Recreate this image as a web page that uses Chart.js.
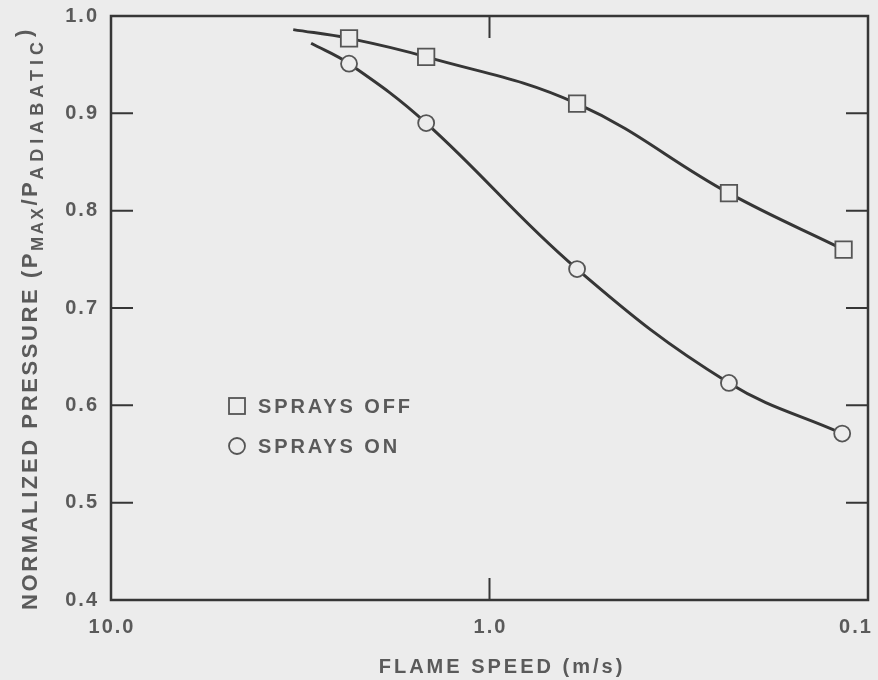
<!DOCTYPE html>
<html>
<head>
<meta charset="utf-8">
<script src="https://cdn.jsdelivr.net/npm/chart.js@4/dist/chart.umd.min.js"></script>
<style>
  html, body { margin: 0; padding: 0; background: #ececec; }
  #wrap { width: 878px; height: 680px; }
</style>
</head>
<body>
<div id="wrap"><canvas id="chart" width="878" height="680"></canvas></div>
<script>
// flame speed (m/s) vs normalized peak pressure
// the first entry of each series is where the fitted curve starts (no marker)
const offSpeed = [3.30, 2.35, 1.47, 0.587, 0.233, 0.116]
const offPressure = [0.986, 0.977, 0.958, 0.910, 0.818, 0.760]
const onSpeed = [2.96, 2.35, 1.47, 0.587, 0.233, 0.117]
const onPressure = [0.972, 0.951, 0.890, 0.740, 0.623, 0.571]

const xTickValues = [10, 1, 0.1]
const xTickLabels = ['10.0', '1.0', '0.1']
const yInnerTicks = [0.5, 0.6, 0.7, 0.8, 0.9]
const xInnerTicks = [1]

const legendItems = ['SPRAYS OFF', 'SPRAYS ON']
const xTitle = 'FLAME SPEED (m/s)'
// y title pieces: [text, font size, baseline shift, letter spacing]
const yTitleParts = [
    ['NORMALIZED PRESSURE (P', 22, 0, 2.6],
    ['MAX', 17, 6, 2.5],
    ['/P', 22, 0, 2.6],
    ['ADIABATIC', 18, 6, 5],
    [')', 22, -6, 0]
]

const INK = '#363636'
const TEXT = '#5a5a5a'
const BG = '#ececec'
const FONT = '"Liberation Sans", Arial, sans-serif'

function toPoints(xs, ys) {
    return xs.map((x, i) => ({x: x, y: ys[i]}))
}

function markerRadius(xs, r) {
    return xs.map((x, i) => i === 0 ? 0 : r)
}

const framePlugin = {
    id: 'frame',
    beforeDraw(chart) {
        chart.ctx.letterSpacing = '2px'
    },
    afterDraw(chart) {
        const ctx = chart.ctx, a = chart.chartArea
        const xs = chart.scales.x, ys = chart.scales.y
        ctx.save()
        ctx.strokeStyle = INK
        ctx.lineWidth = 2.5
        ctx.strokeRect(a.left, a.top, a.right - a.left, a.bottom - a.top)

        // inward ticks
        ctx.lineWidth = 2
        ctx.beginPath()
        yInnerTicks.forEach(v => {
            const py = ys.getPixelForValue(v)
            ctx.moveTo(a.left, py); ctx.lineTo(a.left + 22, py)
            ctx.moveTo(a.right, py); ctx.lineTo(a.right - 22, py)
        })
        xInnerTicks.forEach(v => {
            const px = xs.getPixelForValue(v)
            ctx.moveTo(px, a.top); ctx.lineTo(px, a.top + 22)
            ctx.moveTo(px, a.bottom); ctx.lineTo(px, a.bottom - 22)
        })
        ctx.stroke()

        ctx.fillStyle = TEXT
        ctx.textBaseline = 'middle'
        ctx.textAlign = 'left'

        // x tick labels
        ctx.font = 'bold 20px ' + FONT
        ctx.letterSpacing = '2px'
        xTickValues.forEach((v, i) => {
            const w = ctx.measureText(xTickLabels[i]).width
            let px = xs.getPixelForValue(v)
            px = Math.min(px, a.right - 13)
            ctx.fillText(xTickLabels[i], px - w / 2 + 1, a.bottom + 27)
        })

        // x title
        ctx.letterSpacing = '3px'
        const tw = ctx.measureText(xTitle).width
        ctx.textBaseline = 'alphabetic'
        ctx.fillText(xTitle, 502 - tw / 2, 673)

        // y title with subscripts
        ctx.save()
        ctx.translate(37, a.bottom + 10)
        ctx.rotate(-Math.PI / 2)
        let off = 0
        yTitleParts.forEach(p => {
            ctx.font = 'bold ' + p[1] + 'px ' + FONT
            ctx.letterSpacing = p[3] + 'px'
            ctx.fillText(p[0], off, p[2])
            off += ctx.measureText(p[0]).width
        })
        ctx.restore()

        // legend
        ctx.font = 'bold 20px ' + FONT
        ctx.letterSpacing = '2.9px'
        ctx.textBaseline = 'middle'
        ctx.strokeStyle = '#555'
        ctx.lineWidth = 1.8
        const lx = 237, ly = [406, 446]
        ctx.strokeRect(lx - 8, ly[0] - 8, 16, 16)
        ctx.beginPath()
        ctx.arc(lx, ly[1], 8, 0, Math.PI * 2)
        ctx.stroke()
        legendItems.forEach((t, i) => ctx.fillText(t, 258, ly[i] + 1))

        ctx.restore()
    }
}

const seriesStyle = {
    borderColor: INK,
    borderWidth: 3,
    pointBackgroundColor: BG,
    pointBorderColor: '#555',
    pointBorderWidth: 1.8,
    tension: 0.4,
    fill: false
}

new Chart(document.getElementById('chart'), {
    type: 'line',
    data: {
        datasets: [
            Object.assign({
                label: legendItems[0],
                data: toPoints(offSpeed, offPressure),
                pointStyle: 'rect',
                pointRadius: markerRadius(offSpeed, 11.6)
            }, seriesStyle),
            Object.assign({
                label: legendItems[1],
                data: toPoints(onSpeed, onPressure),
                pointStyle: 'circle',
                pointRadius: markerRadius(onSpeed, 8)
            }, seriesStyle)
        ]
    },
    options: {
        responsive: false,
        devicePixelRatio: 1,
        animation: false,
        layout: {autoPadding: false, padding: {left: 0, top: 16, right: 10, bottom: 0}},
        plugins: {legend: {display: false}, tooltip: {enabled: false}},
        scales: {
            x: {
                type: 'logarithmic',
                reverse: true,
                min: 0.1,
                max: 10,
                grid: {display: false},
                border: {display: false},
                ticks: {display: false},
                afterFit(scale) {
                    scale.height = 80
                    scale.paddingLeft = 0
                    scale.paddingRight = 0
                }
            },
            y: {
                min: 0.4,
                max: 1.0,
                grid: {display: false, drawTicks: false},
                border: {display: false},
                ticks: {
                    stepSize: 0.1,
                    padding: 12,
                    color: TEXT,
                    font: {family: FONT, size: 20, weight: 'bold'},
                    callback: v => v.toFixed(1)
                },
                afterFit(scale) {
                    scale.width = 111
                    scale.paddingTop = 0
                    scale.paddingBottom = 0
                }
            }
        }
    },
    plugins: [framePlugin]
})
</script>
</body>
</html>
